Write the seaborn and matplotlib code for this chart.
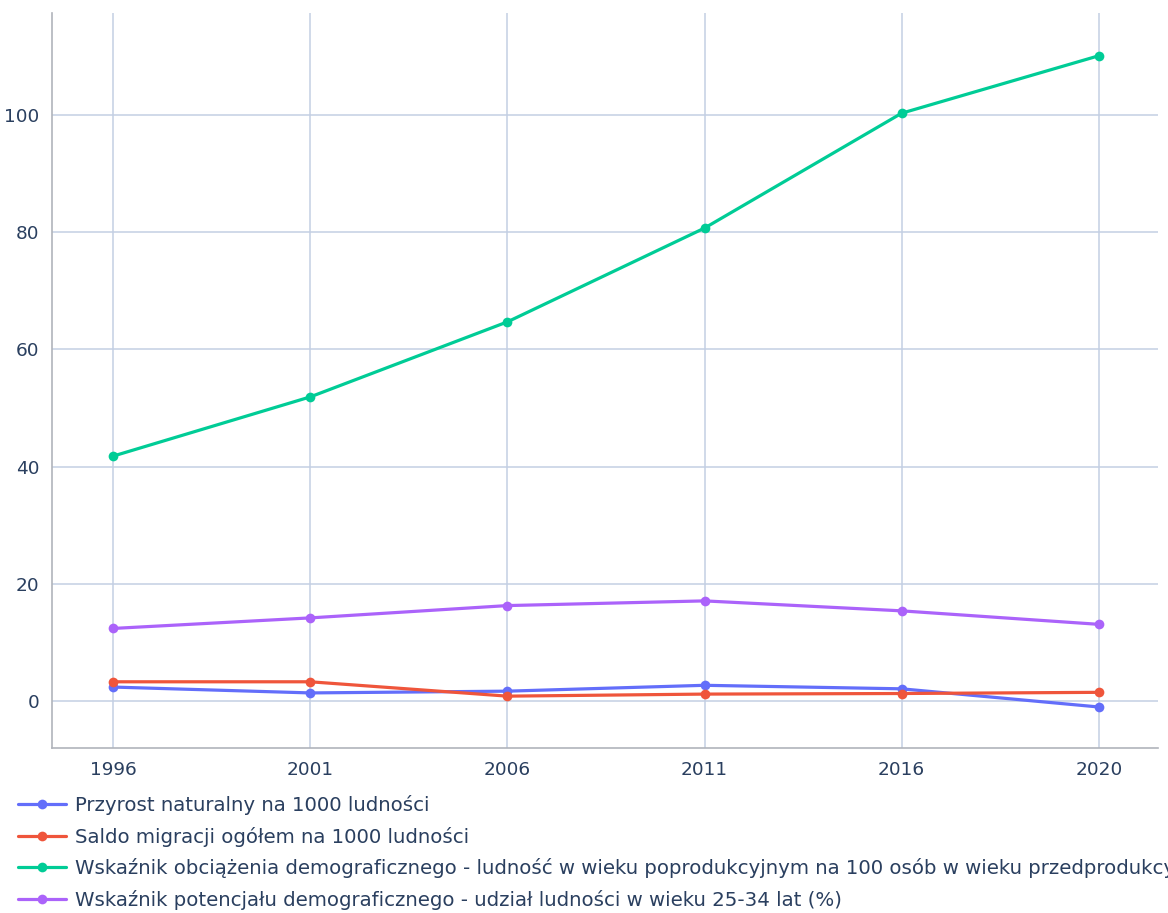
import pandas as pd
import matplotlib.pyplot as plt
import seaborn as sns

# data
years = ["1996", "2001", "2006", "2011", "2016", "2020"]
przyrost = [2.4, 1.4, 1.7, 2.7, 2.1, -1.0]
saldo = [3.3, 3.3, 0.85, 1.2, 1.3, 1.5]
obciazenie = [41.8, 51.9, 64.7, 80.7, 100.3, 110.1]
potencjal = [12.4, 14.2, 16.3, 17.1, 15.4, 13.1]

series_names = [
    "Przyrost naturalny na 1000 ludności",
    "Saldo migracji ogółem na 1000 ludności",
    "Wskaźnik obciążenia demograficznego - ludność w wieku poprodukcyjnym na 100 osób w wieku przedprodukcyjnym",
    "Wskaźnik potencjału demograficznego - udział ludności w wieku 25-34 lat (%)",
]
colors = ["#636efa", "#ef553b", "#00cc96", "#ab63fa"]
y_ticks = [0, 20, 40, 60, 80, 100]

rows = []
for name, vals in zip(series_names, [przyrost, saldo, obciazenie, potencjal]):
    for i, (yr, v) in enumerate(zip(years, vals)):
        rows.append({"pos": i, "rok": yr, "wartosc": v, "seria": name})
df = pd.DataFrame(rows)

sns.set_style("white")
plt.rcParams["font.family"] = ["DejaVu Sans"]
text_color = "#2a3f5f"
grid_color = "#c3cfe3"

fig = plt.figure(figsize=(11.68, 9.13), dpi=100)
ax = fig.add_axes([0.0445, 0.1807, 0.9469, 0.8051])

sns.lineplot(data=df, x="pos", y="wartosc", hue="seria", hue_order=series_names,
             palette=colors, marker="o", markersize=7, markeredgewidth=0,
             linewidth=2.3, ax=ax, zorder=3)

ax.set_xlim(-0.31, 5.30)
ax.set_ylim(-8, 117.4)
ax.set_xticks(range(len(years)))
ax.set_xticklabels(years)
ax.set_yticks(y_ticks)
ax.set_xlabel("")
ax.set_ylabel("")
ax.grid(True, color=grid_color, linewidth=1.1, zorder=0)
ax.set_axisbelow(True)
ax.tick_params(axis="both", length=0, labelsize=13.3, labelcolor=text_color, pad=9)

for side in ["top", "right"]:
    ax.spines[side].set_visible(False)
for side in ["left", "bottom"]:
    ax.spines[side].set_color("#b0b4bb")
    ax.spines[side].set_linewidth(1.2)

# legend below the plot, left aligned; the long label runs off the right edge
# just as it does in the reference
handles, labels = ax.get_legend_handles_labels()
ax.get_legend().remove()
fig.legend(handles, labels, loc="upper left", bbox_to_anchor=(0.0154, 0.1290),
           frameon=False, fontsize=14.2, labelcolor=text_color,
           borderpad=0, borderaxespad=0, labelspacing=0.58,
           handlelength=2.44, handletextpad=0.46)

fig.savefig("out.png", dpi=100)
